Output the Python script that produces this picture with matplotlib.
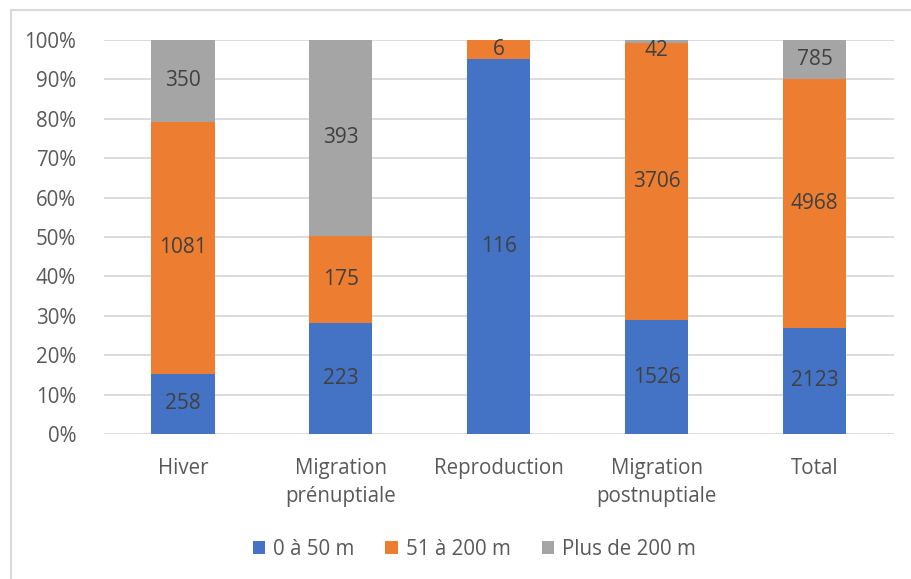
import matplotlib
matplotlib.use("Agg")
import matplotlib.pyplot as plt
from matplotlib.lines import Line2D
import numpy as np

plt.rcParams['font.family'] = ['Open Sans', 'DejaVu Sans']

categories = ["Hiver", "Migration\nprénuptiale", "Reproduction", "Migration\npostnuptiale", "Total"]
series_names = ["0 à 50 m", "51 à 200 m", "Plus de 200 m"]
s_0_50 = [258, 223, 116, 1526, 2123]
s_51_200 = [1081, 175, 6, 3706, 4968]
s_200p = [350, 393, 0, 42, 785]
colors = ["#4472C4", "#ED7D31", "#A5A5A5"]

data = np.array([s_0_50, s_51_200, s_200p], dtype=float)
pct = data / data.sum(axis=0) * 100

fig = plt.figure(figsize=(9.12, 5.79), dpi=100)
ax = fig.add_axes([0.114, 0.2504, 0.866, 0.6805])

x = np.arange(len(categories))
bottom = np.zeros(len(categories))
for i in range(3):
    bars = ax.bar(x, pct[i], 0.4, bottom=bottom, color=colors[i], label=series_names[i], zorder=3)
    for j, b in enumerate(bars):
        if data[i, j] > 0:
            # tiny segments at the top: keep the label inside the plot
            ypos = max(bottom[j] + pct[i, j] / 2, 0)
            va = "center"
            if pct[i, j] < 3:
                ypos, va = 100, "top"
            ax.text(b.get_x() + b.get_width() / 2, ypos, f"{int(data[i, j])}",
                    ha="center", va=va, fontsize=15, color="#404040", zorder=4)
    bottom += pct[i]

ax.set_xlim(-0.5, 4.5)
ax.set_ylim(0, 100)
ax.set_yticks(range(0, 101, 10))
ax.set_yticklabels([f"{v}%" for v in range(0, 101, 10)])
ax.set_xticks(x)
ax.set_xticklabels(categories, linespacing=1.45)
ax.tick_params(length=0, labelsize=14.8, colors="#595959")
ax.tick_params(axis="x", pad=17)
ax.tick_params(axis="y", pad=20)
ax.grid(axis="y", color="#D9D9D9", linewidth=1.3, zorder=0)
for s in ax.spines.values():
    s.set_visible(False)

ax.legend(loc="center", bbox_to_anchor=(0.469, -0.293), ncol=3, frameon=False,
          fontsize=14.8, handlelength=0.6, handleheight=0.6, handletextpad=0.4,
          columnspacing=1.5, labelcolor="#595959")

# chart frame
fig.add_artist(Line2D([11 / 912, 11 / 912], [0, 1 - 10 / 579], color="#D9D9D9", linewidth=1.5))
fig.add_artist(Line2D([11 / 912, 1], [1 - 10 / 579, 1 - 10 / 579], color="#D9D9D9", linewidth=1.5))

fig.savefig("out.png", dpi=100)
